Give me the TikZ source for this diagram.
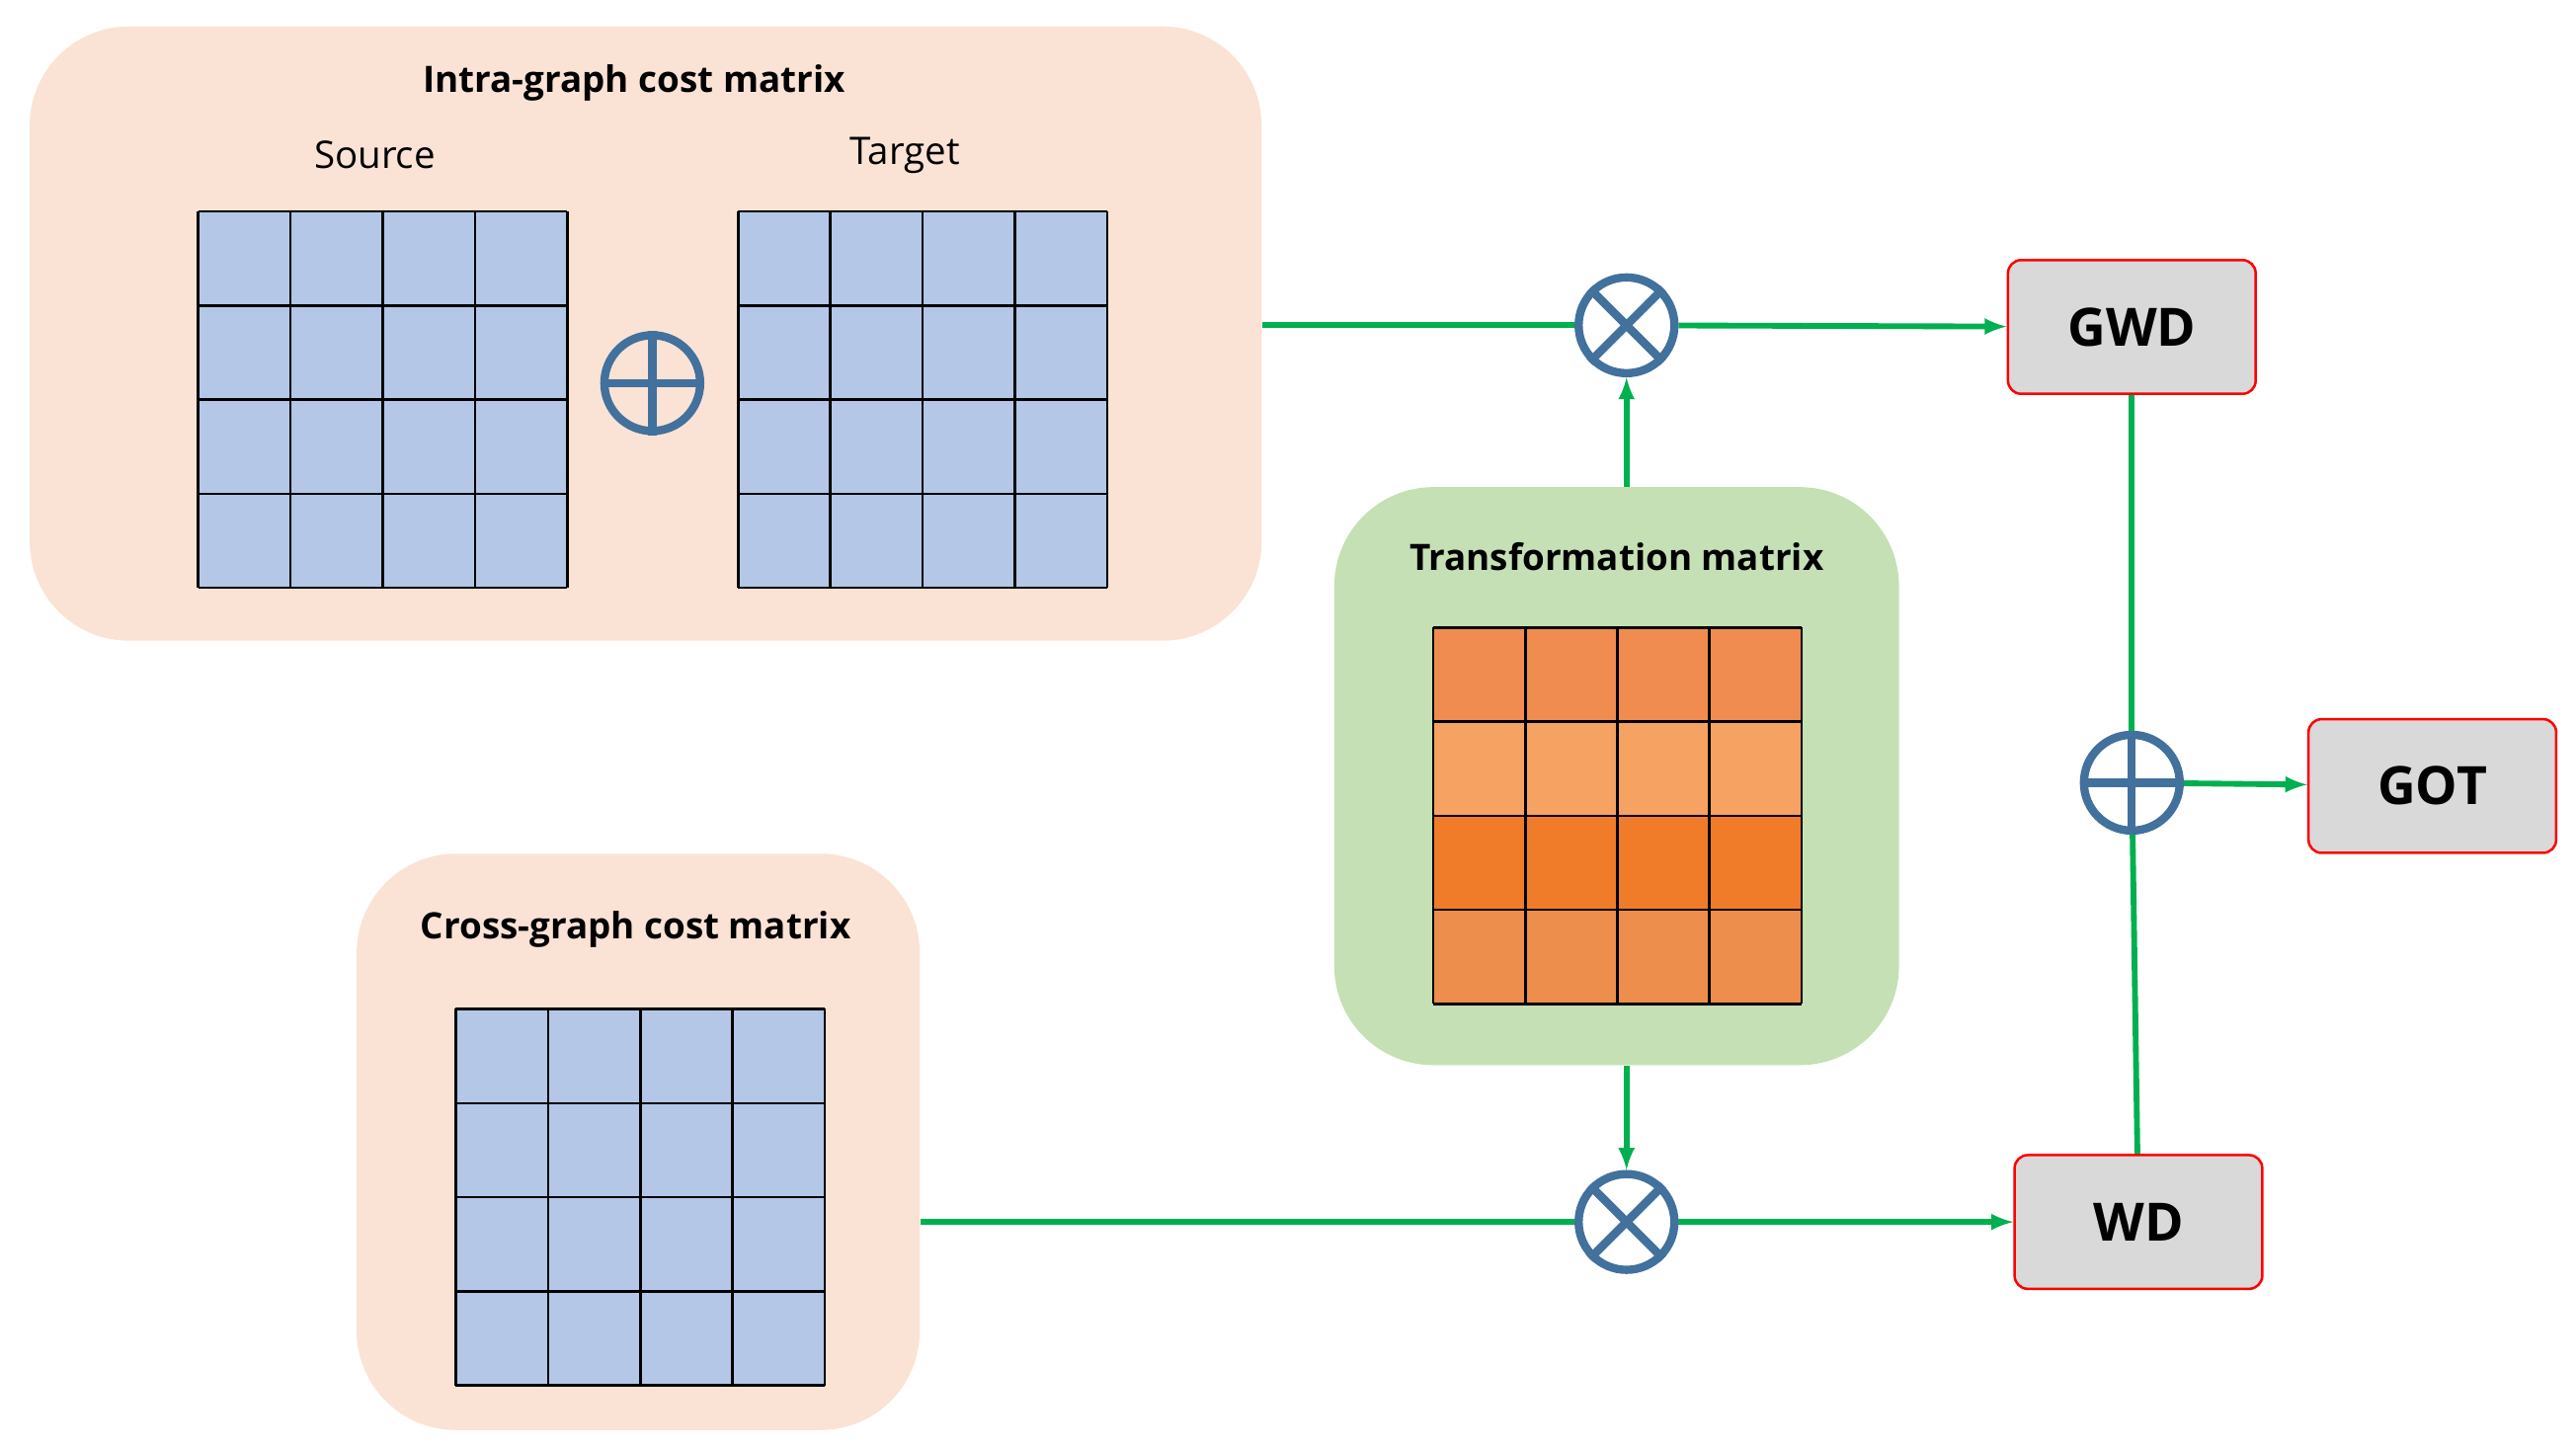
\documentclass[tikz,border=0pt]{standalone}
\usepackage{fontspec}
\setmainfont{Open Sans}
\definecolor{peach}{HTML}{FAE3D5}
\definecolor{cellb}{HTML}{B4C7E7}
\definecolor{greenbox}{HTML}{C5E0B4}
\definecolor{opblue}{HTML}{41719C}
\definecolor{arrg}{HTML}{00B050}
\definecolor{o1}{HTML}{F08C50}
\definecolor{o2}{HTML}{F5A262}
\definecolor{o3}{HTML}{F07C2A}
\definecolor{o4}{HTML}{EE8E4C}
\begin{document}
\begin{tikzpicture}[x=1pt,y=-1pt,
  panel/.style={fill=#1,draw=none,rounded corners=60pt},
  res/.style={draw=red,line width=1.5pt,fill=gray!30,rounded corners=8pt,minimum width=150pt,minimum height=81pt,font=\fontsize{32}{36}\selectfont\bfseries},
  ttl/.style={font=\fontsize{22}{26}\selectfont\bfseries},
  lbl/.style={font=\fontsize{23}{27}\selectfont},
  op/.style={circle,draw=opblue,line width=5pt,minimum size=58pt,inner sep=0pt},
  con/.style={arrg,line width=3.5pt},
  arr/.style={con,-latex}]
\useasboundingbox (0,0) rectangle (1560,877);
\node[panel=peach,minimum width=746pt,minimum height=372pt,inner sep=0pt] (intra) at (391,202) {};
\node[panel=peach,minimum width=341pt,minimum height=349pt,inner sep=0pt] (cross) at (386.5,691.5) {};
\node[panel=greenbox,minimum width=342pt,minimum height=350pt,inner sep=0pt] (trans) at (979,470) {};
\node[ttl] at (384,50) {Intra-graph cost matrix};
\node[lbl] at (227,94) {Source};
\node[lbl] at (548,94) {Target};
\node[ttl] at (385,563) {Cross-graph cost matrix};
\node[ttl] at (979,337) {Transformation matrix};
% grids
\foreach \gx/\gy in {120/128,447/128,276/611}{
  \fill[cellb] (\gx,\gy) rectangle ++(223.5,228);
  \foreach \i in {0,1,2,3,4}{
    \draw[line width=1.5pt] (\gx+55.875*\i,\gy) -- ++(0,228);
    \draw[line width=1.5pt] (\gx,\gy+57*\i) -- ++(223.5,0);}
}
\foreach \c [count=\r from 0] in {o1,o2,o3,o4}
  \fill[\c] (868,380+57*\r) rectangle ++(223,57);
\foreach \i in {0,1,2,3,4}{
  \draw[line width=1.5pt] (868+55.75*\i,380) -- ++(0,228);
  \draw[line width=1.5pt] (868,380+57*\i) -- ++(223,0);}
% operators
\node[op] (p1) at (395,232) {};
\node[op] (m1) at (985,197) {};
\node[op] (m2) at (985,740) {};
\node[op] (p2) at (1291,474) {};
\foreach \n in {p1,p2}{
  \draw[opblue,line width=5pt] (\n.north) -- (\n.south) (\n.west) -- (\n.east);}
\foreach \n in {m1,m2}{
  \draw[opblue,line width=5pt] (\n.north west) -- (\n.south east) (\n.north east) -- (\n.south west);}
% results
\node[res] (gwd) at (1291,198) {GWD};
\node[res] (wd) at (1295,740) {WD};
\node[res] (got) at (1473,476) {GOT};
% connectors
\draw[con] (intra.east |- m1) -- (m1);
\draw[arr] (m1) -- (gwd);
\draw[arr] (trans.north -| m1) -- (m1);
\draw[arr] (trans.south -| m2) -- (m2);
\draw[con] (cross.east |- m2) -- (m2);
\draw[arr] (m2) -- (wd);
\draw[con] (gwd) -- (p2);
\draw[con] (p2) -- (wd);
\draw[arr] (p2) -- (got);
\end{tikzpicture}
\end{document}
